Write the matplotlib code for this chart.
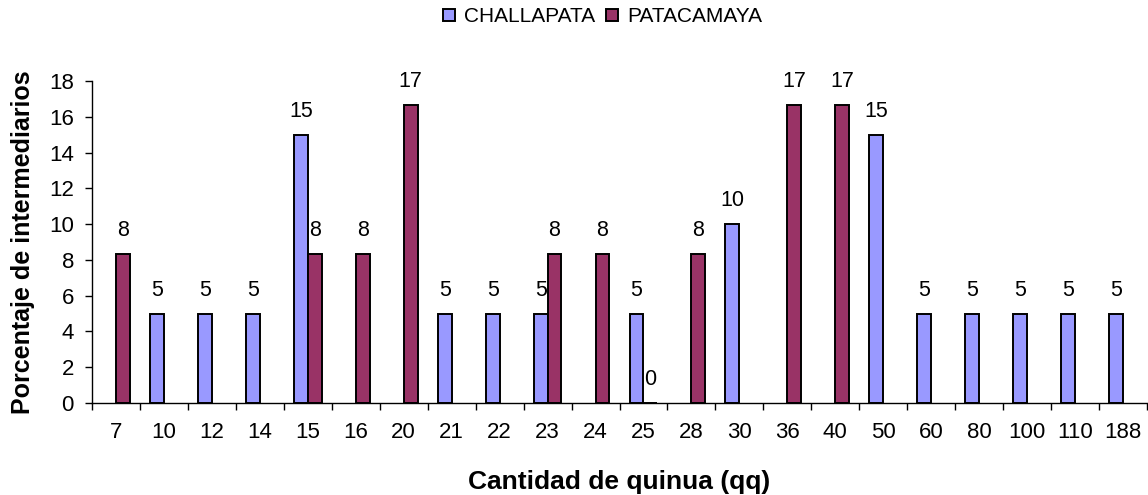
import numpy as np
import matplotlib
matplotlib.use("Agg")
import matplotlib.pyplot as plt
from matplotlib.patches import Patch

plt.rcParams['font.family'] = ['Liberation Sans', 'DejaVu Sans']

categories = ["7", "10", "12", "14", "15", "16", "20", "21", "22", "23", "24",
              "25", "28", "30", "36", "40", "50", "60", "80", "100", "110", "188"]
nan = np.nan
challapata = [nan, 5, 5, 5, 15, nan, nan, 5, 5, 5, nan,
              5, nan, 10, nan, nan, 15, 5, 5, 5, 5, 5]
patacamaya = [8.33, nan, nan, nan, 8.33, 8.33, 16.67, nan, nan, 8.33, 8.33,
              0, 8.33, nan, 16.67, 16.67, nan, nan, nan, nan, nan, nan]
series_names = ["CHALLAPATA", "PATACAMAYA"]
colors = ["#9999FF", "#993366"]
yticks = [0, 2, 4, 6, 8, 10, 12, 14, 16, 18]

fig = plt.figure(figsize=(11.48, 4.95), dpi=100)
ax = fig.add_axes([92 / 1148, (495 - 403) / 495, 1055 / 1148, 322 / 495])

x = np.arange(len(categories))
w = 0.29
for vals, off, col in [(challapata, -w / 2, colors[0]), (patacamaya, w / 2, colors[1])]:
    v = np.array(vals, dtype=float)
    m = ~np.isnan(v)
    ax.bar(x[m] + off, v[m], width=w, color=col, edgecolor="black", linewidth=1.4, zorder=3)
    for xi, vi in zip(x[m] + off, v[m]):
        ax.annotate(f"{vi:.0f}", (xi, vi), xytext=(0, 13), textcoords="offset points",
                    ha="center", va="baseline", fontsize=15.5, color="black", zorder=4)

ax.set_xlim(-0.5, len(categories) - 0.5)
ax.set_ylim(0, 18)
ax.set_yticks(yticks)
ax.set_xticks(x)
ax.set_xticklabels(categories)
ax.set_xticks(np.arange(len(categories) + 1) - 0.5, minor=True)
ax.tick_params(axis="x", which="major", length=0, pad=14, labelsize=16)
ax.tick_params(axis="x", which="minor", length=5, width=1, direction="out")
ax.tick_params(axis="y", length=5, width=1, direction="out", pad=8, labelsize=16)
for s in ["top", "right"]:
    ax.spines[s].set_visible(False)
for s in ["left", "bottom"]:
    ax.spines[s].set_linewidth(1)
    ax.spines[s].set_color("black")

ax.set_xlabel("Cantidad de quinua (qq)", fontsize=19, fontweight="bold", labelpad=19)
ax.set_ylabel("Porcentaje de intermediarios", fontsize=18, fontweight="bold", labelpad=10)

handles = [Patch(facecolor=c, edgecolor="black", linewidth=1.4) for c in colors]
fig.legend(handles, series_names, loc="center", bbox_to_anchor=(0.525, 0.966),
           ncol=2, frameon=False, fontsize=15, handlelength=0.55, handleheight=0.55,
           handletextpad=0.45, columnspacing=0.55)

fig.savefig("out.png", dpi=100)
